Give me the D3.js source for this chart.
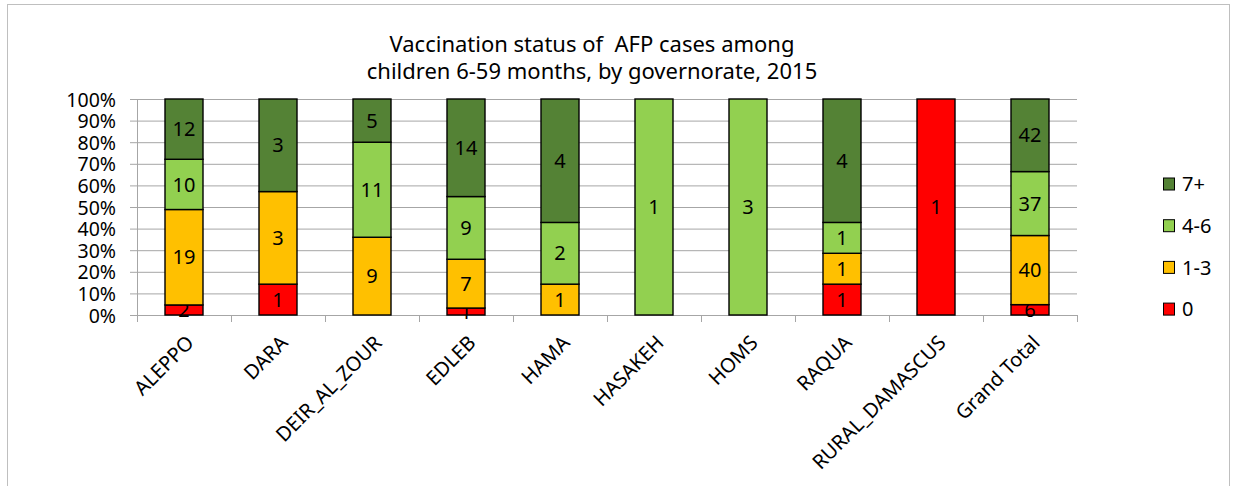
<!DOCTYPE html>
<html>
<head>
<meta charset="utf-8">
<script src="https://cdn.jsdelivr.net/npm/d3@7"></script>
<style>
body { margin:0; background:#fff; }
text { font-family: "Noto Sans", "Open Sans", sans-serif; fill:#000; }
</style>
</head>
<body>
<div id="chart"></div>
<script>
var governorates = ["ALEPPO","DARA","DEIR_AL_ZOUR","EDLEB","HAMA","HASAKEH","HOMS","RAQUA","RURAL_DAMASCUS","Grand Total"];
var doses        = ["0","1-3","4-6","7+"];
var dose0        = [2,1,0,1,0,0,0,1,1,6];
var dose1to3     = [19,3,9,7,1,0,0,1,0,40];
var dose4to6     = [10,0,11,9,2,1,3,1,0,37];
var dose7plus    = [12,3,5,14,4,0,0,4,0,42];
var yTicks       = [0,0.1,0.2,0.3,0.4,0.5,0.6,0.7,0.8,0.9,1];
var colors       = ["#ff0000","#ffc000","#92d050","#548235"];

var width  = 1236;
var height = 486;

var margin = {left:137, right:159, top:99, bottom:171};

var svg = d3.select("#chart").append("svg").attr("width", width).attr("height", height);

// chart frame
svg.append("rect").attr("x",7.5).attr("y",4.5).attr("width",1222).attr("height",500)
    .attr("fill","none").attr("stroke","#bfbfbf").attr("stroke-width",1);

// title (double space kept as in the original)
svg.append("text").attr("x",592).attr("y",52).attr("text-anchor","middle").style("font-size","22px").style("white-space","pre")
    .text("Vaccination status of  AFP cases among");
svg.append("text").attr("x",592).attr("y",79).attr("text-anchor","middle").style("font-size","22px")
    .text("children 6-59 months, by governorate, 2015");

// build rows: one per governorate with each dose group
var rows = governorates.map(function(g, i){
    var r = {name:g};
    r["0"] = dose0[i]; r["1-3"] = dose1to3[i]; r["4-6"] = dose4to6[i]; r["7+"] = dose7plus[i];
    return r;
});

var stacked = d3.stack().keys(doses).offset(d3.stackOffsetExpand)(rows);

var plotW = width - margin.left - margin.right;
var plotH = height - margin.top - margin.bottom;

var x = d3.scaleBand().domain(governorates).range([0,plotW]);
var y = d3.scaleLinear().domain([0,1]).range([plotH,0]);

var chartGroup = svg.append("g").attr("transform","translate("+margin.left+", "+margin.top+")");

// gridlines + y axis
var yAxis = d3.axisLeft(y).tickValues(yTicks).tickFormat(d3.format(".0%")).tickSize(-plotW).tickPadding(21);
var yG = chartGroup.append("g").attr("class","y axis").call(yAxis);
yG.select(".domain").remove();
yG.selectAll(".tick line").attr("stroke","#a6a6a6").attr("x1",-7);
yG.selectAll(".tick text").style("font-size","19.5px").attr("dy","0.36em");

chartGroup.append("line").attr("x1",0.5).attr("x2",0.5).attr("y1",0).attr("y2",plotH).attr("stroke","#a6a6a6");

// x axis
var xAxis = d3.axisBottom(x).tickSize(0).tickSizeOuter(0);
var xG = chartGroup.append("g").attr("class","x axis").attr("transform","translate(0, "+plotH+")").call(xAxis);
xG.select(".domain").attr("stroke","#a6a6a6");
xG.selectAll(".tick text").style("font-size","20px").attr("text-anchor","end")
    .attr("transform","translate(4,22) rotate(-45)").attr("dy","0.35em");

// category tick marks
chartGroup.append("g").selectAll("line").data(governorates.concat(["end"])).enter().append("line")
    .attr("x1", function(d,i){return i*x.step()+0.5;})
    .attr("x2", function(d,i){return i*x.step()+0.5;})
    .attr("y1", plotH).attr("y2", plotH+7).attr("stroke","#a6a6a6");

var barW = 38;

var layers = chartGroup.selectAll(".layer").data(stacked).enter().append("g").attr("class","layer")
    .attr("fill", function(d,i){return colors[i];});

layers.selectAll("rect").data(function(d){return d.filter(function(s){return s.data[d.key] > 0;});}).enter().append("rect")
    .attr("x", function(d){return x(d.data.name) + x.bandwidth()/2 - barW/2;})
    .attr("y", function(d){return y(d[1]);})
    .attr("width", barW)
    .attr("height", function(d){return y(d[0]) - y(d[1]);})
    .attr("stroke","#000").attr("stroke-width",1.4);

// value labels
layers.each(function(layer){
    d3.select(this).selectAll("text").data(layer.filter(function(s){return s.data[layer.key] > 0;})).enter().append("text")
        .attr("x", function(d){return x(d.data.name) + x.bandwidth()/2;})
        .attr("y", function(d){return (y(d[0]) + y(d[1]))/2;})
        .attr("dy","0.36em").attr("text-anchor","middle").style("font-size","20px")
        .text(function(d){return d.data[layer.key];});
});

// legend, top to bottom 7+ .. 0
var legendKeys = doses.slice().reverse();
var legend = svg.append("g").selectAll("g").data(legendKeys).enter().append("g")
    .attr("transform", function(d,i){return "translate(1163, "+(184+i*41.7)+")";});

legend.append("rect").attr("x",0.5).attr("y",-6).attr("width",11).attr("height",12)
    .attr("fill", function(d){return colors[doses.indexOf(d)];}).attr("stroke","#000").attr("stroke-width",1);
legend.append("text").attr("x",19).attr("dy","0.36em").style("font-size","20px").text(function(d){return d;});
</script>
</body>
</html>
